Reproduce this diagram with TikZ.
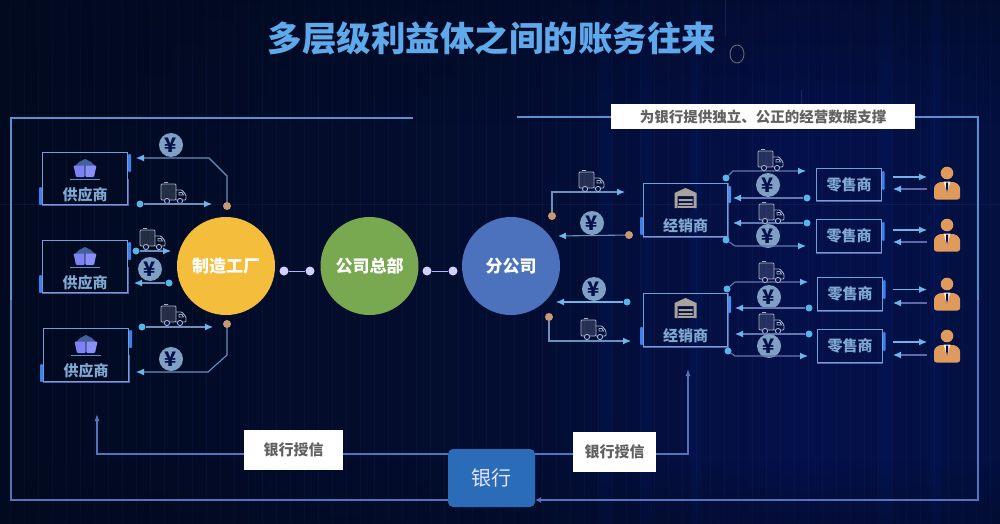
\documentclass[tikz,border=0pt]{standalone}
\usepackage{fontspec}
\setmainfont{Noto Sans CJK SC}
\usetikzlibrary{arrows.meta,calc}
\definecolor{bgA}{HTML}{020A20}
\definecolor{bgM}{HTML}{030D30}
\definecolor{bgB}{HTML}{04104A}
\definecolor{bgR}{HTML}{031040}
\definecolor{frameC}{HTML}{5C8FD0}
\definecolor{frameL}{HTML}{5672BC}
\definecolor{framePur}{HTML}{5B5FA8}
\definecolor{lineC}{HTML}{6C8FBC}
\definecolor{flowC}{HTML}{6FB4EA}
\definecolor{dotC}{HTML}{58B4E6}
\definecolor{orangeD}{HTML}{C99A72}
\definecolor{coinC}{HTML}{7FA0C4}
\definecolor{iconC}{HTML}{A4B1C2}
\definecolor{labelC}{HTML}{7FA8D2}
\definecolor{personC}{HTML}{E09A5C}
\definecolor{bankC}{HTML}{2B6CB8}
\definecolor{yellowH}{HTML}{F4BE3C}
\definecolor{greenH}{HTML}{78A84F}
\definecolor{blueH}{HTML}{4C72BE}
\definecolor{cartA}{HTML}{7C82F2}
\definecolor{cartB}{HTML}{8A90F8}
\definecolor{cartT}{HTML}{44609F}
\definecolor{houseC}{HTML}{A8A49C}
\definecolor{titleC}{HTML}{5FA8EA}
\pgfdeclarehorizontalshading{bgsh}{100bp}{color(0bp)=(bgA); color(25bp)=(bgA); color(50bp)=(bgM); color(65bp)=(bgB); color(75bp)=(bgR); color(100bp)=(bgR)}
\tikzset{
  x=1pt,y=-1pt,
  frameline/.style={draw=frameC,line width=1.2pt},
  framelow/.style={draw=frameL,line width=1.2pt},
  flow/.style={draw=lineC,line width=1.1pt,-{Latex[length=8pt,width=7pt,color=flowC]}},
  flowb/.style={draw=flowC,line width=1.1pt,-{Latex[length=8pt,width=7pt,color=flowC]}},
  flowp/.style={flowb,draw=framePur!50!lineC},
  odot/.style={circle,fill=dotC,draw=none,minimum size=7pt,inner sep=0pt},
  ordot/.style={circle,fill=orangeD,draw=none,minimum size=8pt,inner sep=0pt},
  gdot/.style={circle,fill=white!82!blue,draw=none,minimum size=9pt,inner sep=0pt},
  ent/.style={draw=frameC!85!white,line width=1pt,fill=none,inner sep=0pt,rectangle},
  hub/.style={circle,minimum size=98pt,inner sep=0pt,text=white,font=\fontsize{17}{17}\selectfont\bfseries},
  whitebox/.style={fill=white,draw=none,inner sep=0pt,text=black!62,font=\fontsize{15}{15}\selectfont\bfseries},
  coin/.style={circle,fill=coinC,minimum size=24pt,inner sep=0pt,text=bgB,font=\fontsize{20}{20}\selectfont\bfseries},
  lab/.style={text=labelC,font=\fontsize{15}{15}\selectfont\bfseries,inner sep=0pt},
  truck/.pic={
    \path[fill=white,fill opacity=.14,draw=iconC,line width=.9pt,rounded corners=1pt] (-12,-9) rectangle (3,7);
    \draw[iconC,line width=.9pt,rounded corners=1pt] (3,-3) -- (9,-3) -- (13,2) -- (13,7) -- (3,7);
    \draw[iconC,line width=.9pt] (-9,-10.5) -- (-5,-10.5) (6,-.5) -- (9,-.5) -- (10.5,2) -- (6,2) -- cycle;
    \draw[iconC,line width=.9pt,fill=bgB] (-6,8) circle (2.6) (7,8) circle (2.6);
  },
  cart/.pic={
    \fill[cartT] (-10,-3) -- (-6,-7) -- (0,-10) -- (6,-7) -- (10,-3) -- cycle;
    \fill[cartA,rounded corners=1pt] (-11.5,-3.5) -- (-0.3,-3.5) -- (-0.3,8) -- (-9,8) -- cycle;
    \fill[cartB,rounded corners=1pt] (0.3,-3.5) -- (11.5,-3.5) -- (9,8) -- (0.3,8) -- cycle;
    \draw[frameC,line width=1pt] (-15,10) -- (15,10);
  },
  house/.pic={
    \fill[houseC] (-11,-5) -- (0,-10) -- (11,-5) -- (11,10) -- (8,10) -- (8,-2) -- (-8,-2) -- (-8,10) -- (-11,10) -- cycle;
    \fill[houseC] (-7,1) rectangle (7,3) (-7,5) rectangle (7,7);
    \fill[houseC] (-8,8) rectangle (8,10);
  },
  person/.pic={
    \fill[personC] (0,0) circle (6.3);
    \fill[personC,rounded corners=2.5pt] (-13,26.5) -- (-13,13) -- (-8,9) -- (8,9) -- (13,13) -- (13,26.5) -- cycle;
    \fill[white!85!orange] (-3.5,8.5) -- (3.5,8.5) -- (0,20) -- cycle;
    \fill[bgB] (-1,9.5) -- (1,9.5) -- (1,15) -- (0,20) -- (-1,15) -- cycle;
  },
}
\begin{document}
\begin{tikzpicture}
\useasboundingbox (0,0) rectangle (1000,524);
% background
\shade[shading=bgsh] (0,0) rectangle (1000,524);
\foreach \xx in {10,24,...,1000}{\draw[white!60!blue,opacity=.045,line width=.5pt] (\xx,0) -- (\xx,524);}
\foreach \xx in {600,640,690,880,930}{\fill[blue!70!cyan,opacity=.05] (\xx,0) rectangle (\xx+12,524);}
\draw[white!60!blue,opacity=.07,line width=.5pt] (0,204) -- (1000,204);
\foreach \i in {0,...,24}{
  \pgfmathsetmacro{\opA}{0.5*(1-\i/25)}
  \pgfmathsetmacro{\opB}{0.4*(1-\i/25)}
  \fill[bgA,opacity=\opA] (0,\i*5) rectangle (1000,\i*5+5);
  \fill[bgA,opacity=\opB] (0,524-\i*2.5) rectangle (1000,524-\i*2.5-2.5);
}
\draw[white!60!blue,opacity=.12,line width=.5pt] (725,0) -- (725,36);
\draw[white!60!blue,opacity=.18,line width=.5pt] (801,90) -- (801,104);
\draw[iconC!60!black,line width=.9pt] (737,54) ellipse (7 and 9);

% title
\node[text=titleC,font=\fontsize{34.5}{34.5}\selectfont\bfseries,inner sep=0pt] (title) at (492,38) {多层级利益体之间的账务往来};

% bank and outer frame
\node[fill=bankC,rounded corners=5pt,minimum width=87pt,minimum height=58pt,inner sep=0pt,text=white!90!blue,font=\fontsize{20}{20}\selectfont] (bank) at (491.5,478) {银行};
\coordinate (ftl) at (413,118);
\coordinate (ftr) at (517,117);
\draw[framelow] (11,300) -- (11,500) -- (bank.west |- 0,500);
\draw[frameline] (ftl) -- (11,118) -- (11,300);
\draw[framelow,-{Latex[length=6pt,width=6pt]}] (978,300) -- (978,500) -- (bank.east |- 0,500);
\draw[frameline] (ftr) -- (978,117) -- (978,300);

% top label
\node[whitebox,minimum width=304pt,minimum height=25pt,font=\fontsize{14.5}{14.5}\selectfont\bfseries] (dataLabel) at (763,116.5) {为银行提供独立、公正的经营数据支撑};

% credit lines
\coordinate (cl) at (97,414);
\coordinate (cr) at (688,369);
\draw[framelow,-{Latex[length=7pt,width=5pt]}] (bank.west |- 0,454) -- (97,454) -- (cl);
\draw[framelow,-{Latex[length=7pt,width=5pt]}] (bank.east |- 0,454) -- (688,454) -- (cr);
\node[whitebox,minimum width=99pt,minimum height=40pt] (credit1) at (293.5,450) {银行授信};
\node[whitebox,minimum width=83pt,minimum height=40pt] (credit2) at (614.5,452) {银行授信};

% hubs
\node[hub,fill=yellowH] (factory) at (226,266) {制造工厂};
\node[hub,fill=greenH] (hq) at (369.5,266) {公司总部};
\node[hub,fill=blueH] (branch) at (511,266) {分公司};
\node[gdot] (g1) at (284,271) {};
\node[gdot] (g2) at (310,271) {};
\node[gdot] (g3) at (427,271) {};
\node[gdot] (g4) at (453,271) {};
\draw[white!70!blue,line width=.8pt] (g1) -- (g2);
\draw[white!70!blue,line width=.8pt] (g3) -- (g4);

% suppliers
\foreach \nm/\xl/\yt/\ww/\hh in {s1/42/152/85/52,s2/42/240/85/52,s3/43/328/85/53}{
  \node[ent,anchor=north west,minimum width=\ww pt,minimum height=\hh pt] (\nm) at (\xl,\yt) {};
  \draw[framePur,line width=1pt] (\nm.south west) -- (\nm.south east) -- ($(\nm.north east)!.5!(\nm.south east)$);
  \fill[dotC!70!blue,rounded corners=1pt] ($(\nm.north east)+(0,2)$) rectangle ($(\nm.north east)+(3,20)$);
  \fill[dotC!70!blue,rounded corners=1pt] ($(\nm.south west)+(-3,-18)$) rectangle ($(\nm.south west)+(0,0)$);
  \pic at ($(\nm.north)+(0,17)$) {cart};
  \node[lab] (\nm t) at ($(\nm.north)+(0,43)$) {供应商};
}
\node[ordot] (f1) at (227,206) {};
\coordinate (f1e) at (136,158);
\draw[flow] (f1) -- (227,176) -- (209,158) -- (f1e);
\node[coin] (y1) at (171,145) {¥};
\pic at (173,193) {truck};
\node[odot] (a1) at (140,204) {};
\coordinate (a1e) at (212,204);
\draw[flow] (a1) -- (a1e);

\pic at (152,239) {truck};
\node[odot] (a2) at (136,251) {};
\coordinate (a2e) at (171,251);
\draw[flow] (a2) -- (a2e);
\node[coin] (y2) at (150,269) {¥};
\node[odot] (a3) at (169,283) {};
\coordinate (a3e) at (134,283);
\draw[flow] (a3) -- (a3e);

\pic at (173,315) {truck};
\node[odot] (a4) at (142,327) {};
\coordinate (a4e) at (213,327);
\draw[flow] (a4) -- (a4e);
\node[ordot] (f2) at (227,324) {};
\coordinate (f2e) at (136,372);
\draw[flow] (f2) -- (227,355) -- (208,372) -- (f2e);
\node[coin] (y3) at (171,359) {¥};

% distributors
\foreach \nm/\yt in {d1/183,d2/293}{
  \node[ent,anchor=north west,minimum width=84pt,minimum height=53pt] (\nm) at (643,\yt) {};
  \draw[framePur,line width=1pt] (\nm.south west) -- (\nm.south east) -- (\nm.north east);
  \fill[dotC!80!blue,rounded corners=1pt] ($(\nm.north east)+(0,3)$) rectangle ($(\nm.north east)+(3,20)$);
  \fill[dotC!70!blue,rounded corners=1pt] ($(\nm.south west)+(-3,-20)$) rectangle ($(\nm.south west)+(0,-2)$);
  \pic at ($(\nm.north)+(0,15)$) {house};
  \node[lab] (\nm t) at ($(\nm.north)+(0,43)$) {经销商};
}
% branch to distributor 1
\node[ordot] (b1) at (552,216) {};
\coordinate (b1e) at (625,192);
\draw[flow] (b1) |- (b1e);
\pic at (591,181) {truck};
\node[coin] (y4) at (592,223) {¥};
\node[ordot] (b2) at (629,235) {};
\coordinate (b2e) at (558,236);
\draw[flow] (b2) -- (b2e);
% branch to distributor 2
\node[coin] (y5) at (594,289) {¥};
\node[odot] (b3) at (627,302) {};
\coordinate (b3e) at (556,302);
\draw[flowb] (b3) -- (b3e);
\node[ordot] (b4) at (549,317) {};
\coordinate (b4e) at (631,341);
\draw[flow] (b4) |- (b4e);
\pic at (593,329) {truck};

% retailers
\foreach \nm/\yt/\hh/\xl in {r1/168/32/816,r2/219/33/816,r3/277/33/817,r4/329/33/817}{
  \node[ent,anchor=north west,minimum width=65pt,minimum height=\hh pt] (\nm) at (\xl,\yt) {};
  \draw[framePur,line width=1pt] (\nm.south west) -- (\nm.south east);
  \fill[dotC!70!blue,rounded corners=1pt] ($(\nm.north east)+(0,3)$) rectangle ($(\nm.north east)+(2.5,22)$);
  \node[lab] (\nm t) at (\nm) {零售商};
}
% distributor 1 <-> retailers
\node[odot] (c1) at (726,178) {};
\coordinate (c1e) at (806,171);
\draw[flowp] (c1) -- (733,171) -- (c1e);
\pic at (770,160) {truck};
\node[coin] (y6) at (768,185) {¥};
\node[odot] (c2) at (807,198) {};
\coordinate (c2e) at (733,198);
\draw[flowp] (c2) -- (c2e);
\node[odot] (c3) at (807,223) {};
\coordinate (c3e) at (733,223);
\draw[flowp] (c3) -- (c3e);
\pic at (771,213) {truck};
\node[coin] (y7) at (768,236) {¥};
\node[odot] (c4) at (726,240) {};
\coordinate (c4e) at (806,246);
\draw[flowp] (c4) -- (735,246) -- (c4e);
% distributor 2 <-> retailers
\node[odot] (c5) at (727,289) {};
\coordinate (c5e) at (808,282);
\draw[flowp] (c5) -- (735,282) -- (c5e);
\pic at (771,272) {truck};
\node[coin] (y8) at (769,297) {¥};
\node[odot] (c6) at (809,308) {};
\coordinate (c6e) at (735,308);
\draw[flowp] (c6) -- (c6e);
\pic at (771,323) {truck};
\node[odot] (c7) at (809,334) {};
\coordinate (c7e) at (735,334);
\draw[flowp] (c7) -- (c7e);
\node[coin] (y9) at (769,346) {¥};
\node[odot] (c8) at (728,351) {};
\coordinate (c8e) at (808,356);
\draw[flowp] (c8) -- (735,356) -- (c8e);

% customers
\foreach \i/\yh/\ya/\yb in {1/173/177/189,2/225/230/242,3/284/289.5/303,4/336/342/355}{
  \pic at (947,\yh) {person};
  \coordinate (p\i a) at (893,\ya); \coordinate (p\i b) at (927,\ya);
  \coordinate (p\i c) at (927,\yb); \coordinate (p\i d) at (893,\yb);
  \draw[flowb] (p\i a) -- (p\i b);
  \draw[flowb,draw=framePur!80!lineC] (p\i c) -- (p\i d);
}
\end{tikzpicture}
\end{document}
